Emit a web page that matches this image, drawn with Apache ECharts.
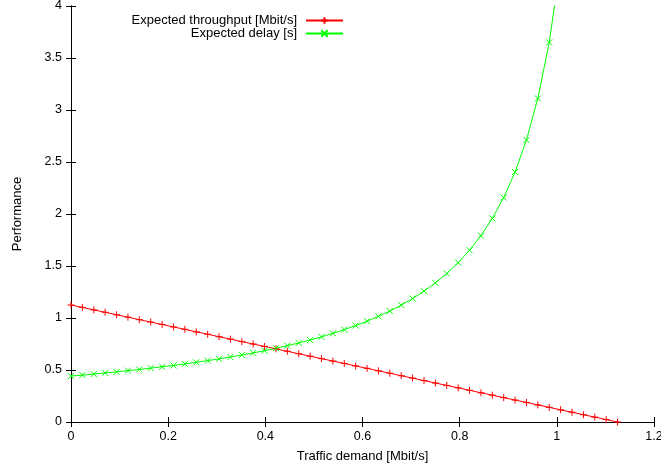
<!DOCTYPE html>
<html><head><meta charset="utf-8">
<script src="https://cdn.jsdelivr.net/npm/echarts@6/dist/echarts.min.js"></script>
<style>html,body{margin:0;padding:0;background:#fff;overflow:hidden}#c{width:661px;height:469px}</style>
</head><body><div id="c"></div>
<script>
const demand = [0,0.0234,0.0469,0.0703,0.0938,0.1172,0.1406,0.1641,0.1875,0.2109,0.2344,0.2578,0.2813,0.3047,0.3281,0.3516,0.375,0.3984,0.4219,0.4453,0.4688,0.4922,0.5156,0.5391,0.5625,0.5859,0.6094,0.6328,0.6563,0.6797,0.7031,0.7266,0.75,0.7734,0.7969,0.8203,0.8438,0.8672,0.8906,0.9141,0.9375,0.9609,0.9844,1.0078,1.0313,1.0547,1.0781,1.1016,1.125];
const throughput = [1.125,1.102,1.078,1.055,1.031,1.008,0.984,0.961,0.938,0.914,0.891,0.867,0.844,0.820,0.797,0.773,0.750,0.727,0.703,0.680,0.656,0.633,0.609,0.586,0.563,0.539,0.516,0.492,0.469,0.445,0.422,0.398,0.375,0.352,0.328,0.305,0.281,0.258,0.234,0.211,0.188,0.164,0.141,0.117,0.094,0.070,0.047,0.023,0];
const delay = [0.442,0.451,0.461,0.472,0.482,0.494,0.505,0.518,0.531,0.544,0.559,0.574,0.590,0.607,0.625,0.644,0.664,0.686,0.709,0.734,0.760,0.788,0.819,0.852,0.888,0.927,0.969,1.016,1.067,1.124,1.187,1.258,1.338,1.428,1.532,1.652,1.792,1.958,2.158,2.404,2.712,3.111,3.650,4.412];
const xTicks = {min:0, max:1.2, interval:0.2};
const yTicks = {min:0, max:4, interval:0.5};
const names = ['Expected throughput [Mbit/s]','Expected delay [s]'];

const FONT = 'Liberation Sans';
const plus = 'path://M0,5L10,5M5,0L5,10';
const cross = 'path://M0,0L10,10M0,10L10,0';
const pairs = (ys) => ys.map((y,i)=>[demand[i], y]);
const tickStyle = {show:true, inside:true, length:5, lineStyle:{color:'#000'}};
const el = document.getElementById('c');
const chart = echarts.init(el, null, {renderer:'canvas', width:661, height:469});
chart.setOption({
  animation:false,
  backgroundColor:'#fff',
  textStyle:{fontFamily:FONT},
  grid:{left:71, right:7, top:6, bottom:47, containLabel:false, outerBoundsMode:'none'},
  legend:[
    {data:[names[0]], right:312, top:9, align:'right', itemWidth:37, itemHeight:8, itemGap:0,
     textStyle:{fontFamily:FONT, fontSize:13, color:'#000', padding:[0,4,0,0]}, selectedMode:false},
    {data:[names[1]], right:312, top:22, align:'right', itemWidth:37, itemHeight:8, itemGap:0,
     textStyle:{fontFamily:FONT, fontSize:13, color:'#000', padding:[0,4,0,0]}, selectedMode:false}
  ],
  xAxis:[
    {type:'value', min:xTicks.min, max:xTicks.max, interval:xTicks.interval, position:'bottom',
     name:'Traffic demand [Mbit/s]', nameLocation:'middle', nameGap:28,
     nameTextStyle:{fontFamily:FONT, fontSize:13, color:'#000'},
     axisLine:{show:true, lineStyle:{color:'#000', width:1}}, axisTick:tickStyle,
     axisLabel:{color:'#000', fontFamily:FONT, fontSize:12.5, margin:8}, splitLine:{show:false}},
    {type:'value', min:xTicks.min, max:xTicks.max, interval:xTicks.interval, position:'top',
     axisLine:{show:true, lineStyle:{color:'#000', width:1}}, axisTick:tickStyle,
     axisLabel:{show:false}, splitLine:{show:false}}
  ],
  yAxis:[
    {type:'value', min:yTicks.min, max:yTicks.max, interval:yTicks.interval, position:'left',
     name:'Performance', nameLocation:'middle', nameGap:47, nameRotate:90,
     nameTextStyle:{fontFamily:FONT, fontSize:13, color:'#000'},
     axisLine:{show:true, lineStyle:{color:'#000', width:1}}, axisTick:tickStyle,
     axisLabel:{color:'#000', fontFamily:FONT, fontSize:12.5, margin:9}, splitLine:{show:false}},
    {type:'value', min:yTicks.min, max:yTicks.max, interval:yTicks.interval, position:'right',
     axisLine:{show:true, lineStyle:{color:'#000', width:1}}, axisTick:tickStyle,
     axisLabel:{show:false}, splitLine:{show:false}}
  ],
  series:[
    {name:names[0], type:'line', data:pairs(throughput), symbol:plus, symbolSize:7, showAllSymbol:true,
     lineStyle:{color:'#ff0000', width:1}, itemStyle:{color:'#ff0000', borderColor:'#ff0000', borderWidth:1},
     emphasis:{disabled:true}, clip:true},
    {name:names[1], type:'line', data:pairs(delay), symbol:cross, symbolSize:6, showAllSymbol:true,
     lineStyle:{color:'#00ff00', width:1}, itemStyle:{color:'#00ff00', borderColor:'#00ff00', borderWidth:1},
     emphasis:{disabled:true}, clip:true}
  ]
});
</script></body></html>
